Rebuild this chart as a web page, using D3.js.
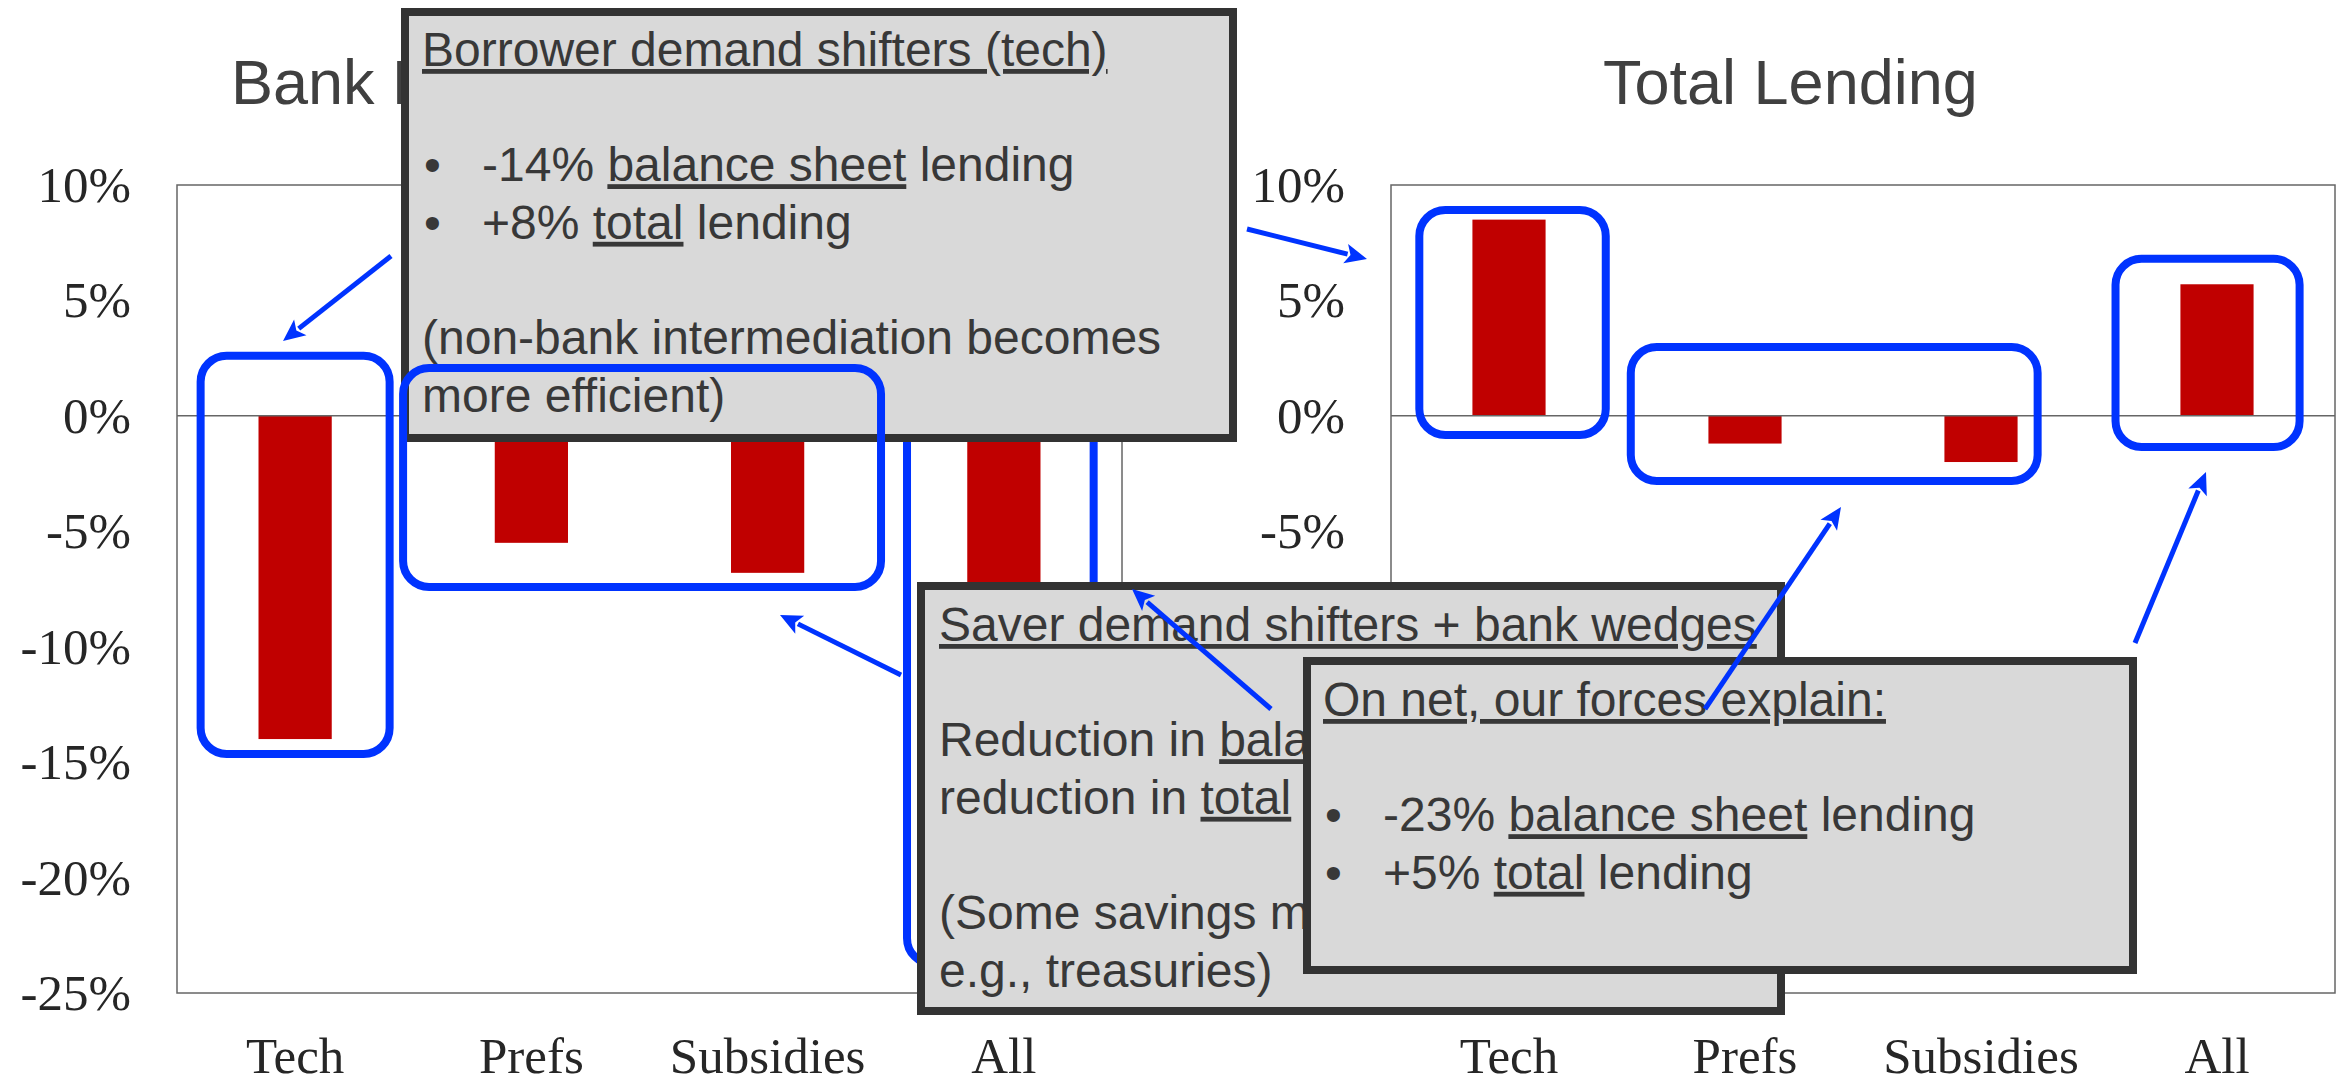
<!DOCTYPE html>
<head>
<meta charset="utf-8">
<title>Bank Lending vs Total Lending</title>
<style>
body { margin: 0; background: #fff; }
svg { display: block; }
.ttl { font-family: "Liberation Sans", Arial, sans-serif; fill: #404040; }
.tick { font-family: "Liberation Serif", "Times New Roman", serif; fill: #262626; }
.note { font-family: "Liberation Sans", Arial, sans-serif; fill: #383838; font-size: 48px; }
.u { text-decoration: underline; }
</style>
<script src="https://cdn.jsdelivr.net/npm/d3@7"></script>
</head>
<body>
<script>
// values (% change)
var categories = ["Tech", "Prefs", "Subsidies", "All"];
var bankLending = [-14.0, -5.5, -6.8, -23.0];
var totalLending = [8.5, -1.2, -2.0, 5.7];
var yTicks = [10, 5, 0, -5, -10, -15, -20, -25];
var titles = ["Bank Lending", "Total Lending"];

var W = 2349, H = 1078;
var svg = d3.select("body").append("svg").attr("width", W).attr("height", H);

var y = d3.scaleLinear().domain([-25, 10]).range([993, 185]);

var panels = [
  {vals: bankLending, x0: 177, x1: 1122, title: titles[0], tx: 231},
  {vals: totalLending, x0: 1391, x1: 2335, title: titles[1], tx: 1603}
];
panels.forEach(function(p) {
  p.x = d3.scaleBand().domain(categories).range([p.x0, p.x1])
    .paddingInner(0.69).paddingOuter(0.345);
});

// titles
panels.forEach(function(p) {
  svg.append("text").attr("class", "ttl").attr("x", p.tx).attr("y", 104)
    .attr("font-size", 63).text(p.title);
});

// plots
panels.forEach(function(p) {
  var g = svg.append("g");
  g.append("rect").attr("x", p.x0).attr("y", y(10)).attr("width", p.x1 - p.x0)
    .attr("height", y(-25) - y(10)).attr("fill", "none")
    .attr("stroke", "#666").attr("stroke-width", 1.5);
  g.selectAll(".bar").data(p.vals).enter().append("rect")
    .attr("x", function(d, i) { return p.x(categories[i]); })
    .attr("width", p.x.bandwidth())
    .attr("y", function(d) { return y(Math.max(0, d)); })
    .attr("height", function(d) { return Math.abs(y(d) - y(0)); })
    .attr("fill", "#c00000");
  g.append("line").attr("x1", p.x0).attr("x2", p.x1).attr("y1", y(0)).attr("y2", y(0))
    .attr("stroke", "#666").attr("stroke-width", 1.5);
  g.selectAll(".yt").data(yTicks).enter().append("text").attr("class", "tick")
    .attr("x", p.x0 - 46).attr("y", function(d) { return y(d) + 17; })
    .attr("text-anchor", "end").attr("font-size", 51)
    .text(function(d) { return d + "%"; });
  g.selectAll(".xt").data(categories).enter().append("text").attr("class", "tick")
    .attr("x", function(d) { return p.x(d) + p.x.bandwidth() / 2; })
    .attr("y", 1073).attr("text-anchor", "middle").attr("font-size", 51)
    .text(function(d) { return d; });
});

var BLUE = "#0033ff";

// blue highlight around bars: band index range + % range
function hilite(p, i0, i1, top, bot) {
  var s = p.x.step(), a = p.x0 + s * i0, b = p.x0 + s * i1;
  svg.append("rect").attr("x", a).attr("y", y(top)).attr("width", b - a)
    .attr("height", y(bot) - y(top)).attr("rx", 26).attr("ry", 26)
    .attr("fill", "none").attr("stroke", BLUE).attr("stroke-width", 8);
}

function arrow(x1, y1, x2, y2) {
  var dx = x2 - x1, dy = y2 - y1, L = Math.sqrt(dx * dx + dy * dy);
  var ux = dx / L, uy = dy / L, hl = 22, hw = 10;
  var bx = x2 - ux * hl, by = y2 - uy * hl;
  svg.append("line").attr("x1", x1).attr("y1", y1).attr("x2", bx + ux * 2).attr("y2", by + uy * 2)
    .attr("stroke", BLUE).attr("stroke-width", 5);
  svg.append("path")
    .attr("d", "M" + x2 + "," + y2 + "L" + (bx - uy * hw) + "," + (by + ux * hw) +
      "L" + (bx + ux * 5) + "," + (by + uy * 5) +
      "L" + (bx + uy * hw) + "," + (by - ux * hw) + "Z")
    .attr("fill", BLUE);
}

// gray call-out box; each line is a list of [text, underlined] pieces
function callout(x, y0, w, h, tx, ty, lines) {
  svg.append("rect").attr("x", x).attr("y", y0).attr("width", w).attr("height", h)
    .attr("fill", "#d9d9d9").attr("stroke", "#333").attr("stroke-width", 8);
  lines.forEach(function(ln, k) {
    if (!ln) return;
    var yy = ty + k * 57.6, xx = tx;
    if (ln.bullet) {
      svg.append("text").attr("class", "note").attr("x", tx + 2).attr("y", yy).text("\u2022");
      xx = tx + 60;
    }
    var t = svg.append("text").attr("class", "note").attr("x", xx).attr("y", yy)
      .attr("xml:space", "preserve");
    ln.parts.forEach(function(pc) {
      t.append("tspan").attr("class", pc[1] ? "u" : null).text(pc[0]);
    });
  });
}

var L = panels[0], R = panels[1];

hilite(L, 3.09, 3.88, 2.6, -23.75);

callout(405, 12, 828, 426, 422, 66, [
  {parts: [["Borrower demand shifters (tech)", 1]]},
  null,
  {bullet: 1, parts: [["-14% "], ["balance sheet", 1], [" lending"]]},
  {bullet: 1, parts: [["+8% "], ["total", 1], [" lending"]]},
  null,
  {parts: [["(non-bank intermediation becomes"]]},
  {parts: [["more efficient)"]]}
]);

hilite(L, 0.10, 0.90, 2.6, -14.65);
hilite(L, 0.957, 2.98, 2.07, -7.41);
arrow(391, 256, 283, 341);
arrow(1247, 229, 1367, 259);

hilite(R, 0.12, 0.91, 8.92, -0.83);
hilite(R, 1.016, 2.74, 2.98, -2.82);
hilite(R, 3.07, 3.85, 6.8, -1.35);

callout(921, 586, 860, 425, 939, 641, [
  {parts: [["Saver demand shifters + bank wedges", 1]]},
  null,
  {parts: [["Reduction in "], ["balance sheet", 1], [" lending exceeds"]]},
  {parts: [["reduction in "], ["total", 1], [" lending"]]},
  null,
  {parts: [["(Some savings move to non-banks,"]]},
  {parts: [["e.g., treasuries)"]]}
]);
arrow(901, 675, 780, 615);
arrow(1271, 709, 1132, 589);

callout(1307, 661, 826, 309, 1323, 716, [
  {parts: [["On net, our forces explain:", 1]]},
  null,
  {bullet: 1, parts: [["-23% "], ["balance sheet", 1], [" lending"]]},
  {bullet: 1, parts: [["+5% "], ["total", 1], [" lending"]]}
]);
arrow(1705, 709, 1841, 507);
arrow(2135, 643, 2206, 472);
</script>
</body>
